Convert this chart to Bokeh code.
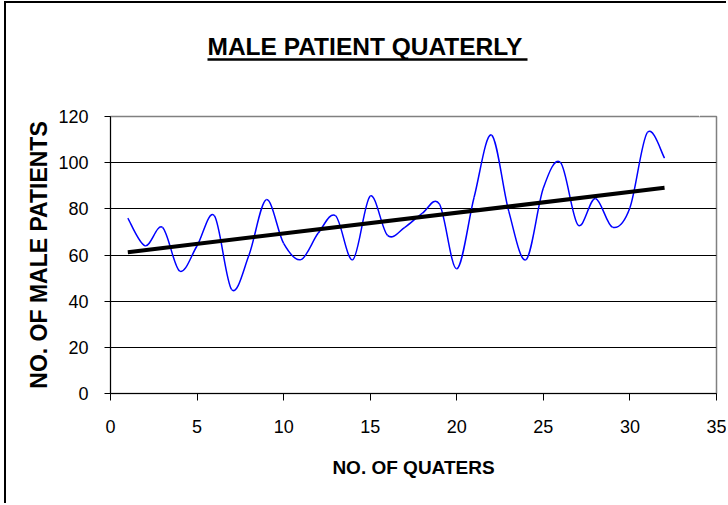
import numpy as np
from bokeh.plotting import figure
from bokeh.models import FixedTicker, Range1d, ColumnDataSource, LinearAxis, Title
from bokeh.embed import file_html
from bokeh.resources import INLINE

# ---- data ----
quarters = list(range(1, 33))
male_patients = [76, 64, 72, 53, 64, 77, 45, 60, 84, 65, 58, 69.5, 77, 58, 85.5, 68.5,
                 72, 78, 82, 54, 85, 112, 79, 58, 89, 100, 73, 84.5, 72, 80.5, 113, 102]
trend_quarters = [1, 32]
trend_values = [61.2, 89.1]
x_ticks = [0, 5, 10, 15, 20, 25, 30, 35]
y_ticks = [0, 20, 40, 60, 80, 100, 120]
grid_levels = [20, 40, 60, 80, 100]
title_text = "MALE PATIENT QUATERLY"
x_title = "NO. OF QUATERS"
y_title = "NO. OF MALE PATIENTS"

FONT = "Liberation Sans"

p = figure(width=722, height=502, x_range=Range1d(0, 35), y_range=Range1d(0, 120),
           output_backend="svg", toolbar_location=None,
           min_border_left=104, min_border_right=12, min_border_top=113, min_border_bottom=112)
p.title_location = None
p.background_fill_color = "white"
p.border_fill_color = "white"
p.outline_line_color = "#808080"
p.outline_line_width = 1.5
# outer chart border (left and top edges visible in the reference)
p.styles = {"margin-left": "4px", "margin-top": "1px",
            "border-left": "2px solid black", "border-top": "2px solid black"}

# axes
for ax in (p.xaxis[0], p.yaxis[0]):
    ax.axis_line_color = "black"
    ax.axis_line_width = 1
    ax.major_tick_line_color = "black"
    ax.major_tick_in = 0
    ax.minor_tick_line_color = None
    ax.major_label_text_font = FONT
    ax.major_label_text_font_size = "18px"
    ax.major_label_text_color = "black"
    ax.axis_label_text_font = FONT
    ax.axis_label_text_font_style = "bold"
    ax.axis_label_text_color = "black"

p.xaxis.ticker = FixedTicker(ticks=x_ticks)
p.yaxis.ticker = FixedTicker(ticks=y_ticks)
p.xaxis.major_tick_out = 7
p.yaxis.major_tick_out = 6
p.xaxis.major_label_standoff = 19
p.yaxis.major_label_standoff = 16
p.xaxis.axis_label = x_title
p.yaxis.axis_label = y_title
p.xaxis.axis_label_text_font_size = "19px"
p.yaxis.axis_label_text_font_size = "23px"
p.xaxis.axis_label_standoff = 21
p.yaxis.axis_label_standoff = 3

p.xgrid.visible = False
p.ygrid.ticker = FixedTicker(ticks=grid_levels)
p.ygrid.grid_line_color = "black"
p.ygrid.grid_line_width = 1

# --- title block: spacer panel, underline rule, title text (stacked above the frame)
spacer = LinearAxis(ticker=FixedTicker(ticks=[34]), axis_line_color=None,
                    major_tick_out=57, major_tick_in=0,
                    major_tick_line_color="white", minor_tick_line_color=None,
                    major_label_text_color=None, major_label_standoff=0)
p.add_layout(spacer, "above")
underline = LinearAxis(ticker=FixedTicker(ticks=[]), axis_line_color="black",
                       axis_line_width=2.6, bounds=(5.585, 24.07),
                       major_tick_out=0, major_tick_in=0,
                       major_tick_line_color=None, minor_tick_line_color=None)
p.add_layout(underline, "above")
p.add_layout(Title(text=title_text, align="left", offset=97, standoff=0,
                   text_font=FONT, text_font_size="24.5px", text_font_style="bold",
                   text_color="black"), "above")

# smoothed series via cubic Bezier segments (Excel-style smoothing)
xs = np.array(quarters, dtype=float)
ys = np.array(male_patients, dtype=float)
xp = np.concatenate([[xs[0]], xs, [xs[-1]]])
yp = np.concatenate([[ys[0]], ys, [ys[-1]]])
n = len(xs)
seg = dict(
    x0=xs[:-1], y0=ys[:-1], x1=xs[1:], y1=ys[1:],
    cx0=xs[:-1] + (xp[2:n + 1] - xp[0:n - 1]) / 6.0,
    cy0=ys[:-1] + (yp[2:n + 1] - yp[0:n - 1]) / 6.0,
    cx1=xs[1:] - (xp[3:n + 2] - xp[1:n]) / 6.0,
    cy1=ys[1:] - (yp[3:n + 2] - yp[1:n]) / 6.0,
)
p.bezier(x0="x0", y0="y0", x1="x1", y1="y1", cx0="cx0", cy0="cy0", cx1="cx1", cy1="cy1",
         source=ColumnDataSource(seg), line_color="#0000FF", line_width=1.5)

# linear trend line
p.line(trend_quarters, trend_values, line_color="black", line_width=4)

open("out.html", "w").write(file_html(p, INLINE))
